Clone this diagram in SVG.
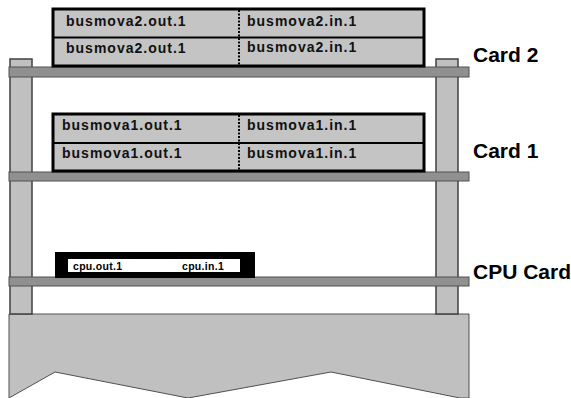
<svg xmlns="http://www.w3.org/2000/svg" width="571" height="398" viewBox="0 0 571 398">
<style>
.post{fill:#c0c0c0;stroke:#404040;stroke-width:1.5}
.shelf{fill:#909090;stroke:#505050;stroke-width:1}
.base{fill:#c0c0c0;stroke:#505050;stroke-width:1}
.card{fill:#c4c4c4;stroke:#000;stroke-width:3}
.div{stroke:#000;stroke-width:2}
.dot{stroke:#000;stroke-width:2;stroke-dasharray:2,1.5}
.t{font-family:"Liberation Sans",Arial,sans-serif;font-weight:bold;font-size:14px;letter-spacing:1px;fill:#111}
.ct{font-family:"Liberation Sans",Arial,sans-serif;font-weight:bold;font-size:10.5px;letter-spacing:0.3px;fill:#000}
.lbl{font-family:"Liberation Sans",Arial,sans-serif;font-weight:bold;font-size:21px;fill:#000}
</style>
<g id="base"><polygon class="base" points="9,314 469,314 469,398 460,398 331,372 188,398 55,372 9,398"/></g>
<g id="posts">
<rect class="post" x="10" y="59" width="22" height="255"/>
<rect class="post" x="436" y="59" width="22" height="255"/>
</g>
<g id="shelves">
<rect class="shelf" x="9" y="67" width="460" height="10"/>
<rect class="shelf" x="9" y="172" width="460" height="9"/>
<rect class="shelf" x="9" y="277" width="460" height="9"/>
</g>
<g id="card2">
<rect class="card" x="53" y="9" width="371" height="57"/>
<line class="div" x1="53" y1="37.5" x2="424" y2="37.5"/>
<line class="dot" x1="239" y1="10" x2="239" y2="65"/>
<text class="t" x="66" y="26">busmova2.out.1</text>
<text class="t" x="66" y="53">busmova2.out.1</text>
<text class="t" x="247" y="26">busmova2.in.1</text>
<text class="t" x="247" y="52">busmova2.in.1</text>
</g>
<g id="card1">
<rect class="card" x="53" y="114" width="371" height="57"/>
<line class="div" x1="53" y1="143" x2="424" y2="143"/>
<line class="dot" x1="239" y1="115" x2="239" y2="170"/>
<text class="t" x="62" y="130">busmova1.out.1</text>
<text class="t" x="62" y="158">busmova1.out.1</text>
<text class="t" x="247" y="130">busmova1.in.1</text>
<text class="t" x="247" y="158">busmova1.in.1</text>
</g>
<g id="cpucard">
<rect x="55" y="252" width="200" height="26" fill="#000"/>
<rect x="68" y="259" width="172" height="13" fill="#fff"/>
<text class="ct" x="73" y="269.5">cpu.out.1</text>
<text class="ct" x="182" y="269.5">cpu.in.1</text>
</g>
<g id="labels">
<text class="lbl" x="473" y="62">Card 2</text>
<text class="lbl" x="473" y="158">Card 1</text>
<text class="lbl" x="473" y="279">CPU Card</text>
</g>
<g id="connectors"/>
</svg>
